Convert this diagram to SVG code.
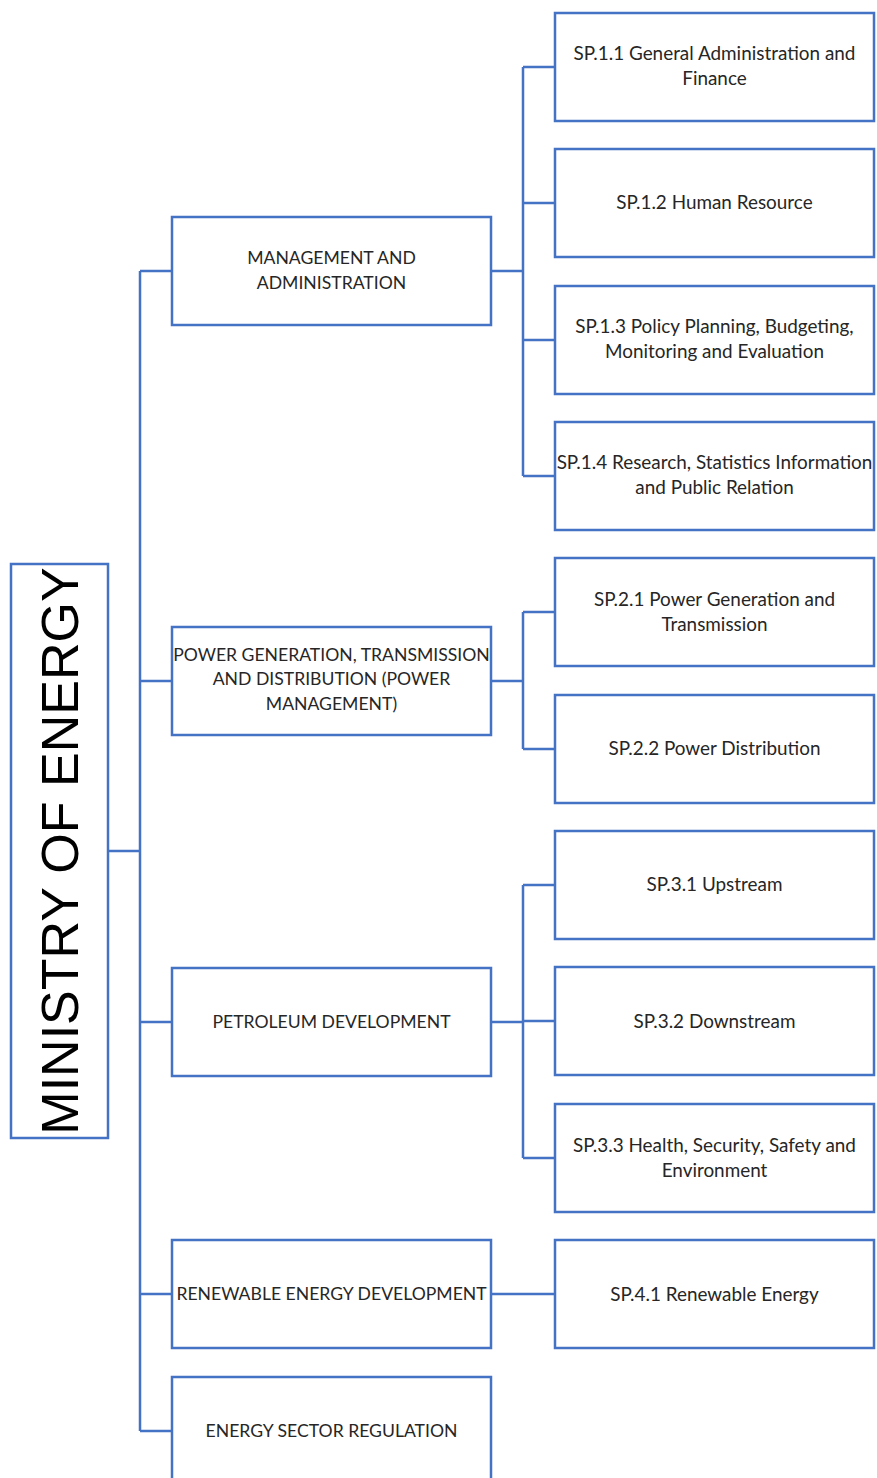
<svg xmlns="http://www.w3.org/2000/svg" width="877" height="1478" viewBox="0 0 877 1478">
<style>
.box{fill:#fff;stroke:#4472C4;stroke-width:2.5}
.con{fill:none;stroke:#4472C4;stroke-width:2.5}
.t{font-family:Lato,"Liberation Sans",sans-serif;font-size:17.6px;fill:#262626;text-anchor:middle}
.s{font-size:18.9px}
.root{font-family:"Liberation Sans",Arial,sans-serif;font-size:52px;fill:#000;text-anchor:middle}
</style>
<rect width="877" height="1478" fill="#fff"/>
<g id="connectors" class="con">
<path d="M108,851H140M140,271V1431M140,271H172M140,681H172M140,1022H172M140,1294H172M140,1431H172"/>
<path d="M491,271H523M523,67V476M523,67H555M523,203H555M523,340H555M523,476H555"/>
<path d="M491,681H523M523,612V749M523,612H555M523,749H555"/>
<path d="M491,1022H523M523,885V1158M523,885H555M523,1021H555M523,1158H555"/>
<path d="M491,1294H555"/>
</g>
<g id="root"><rect class="box" x="11" y="564" width="97" height="574"/><text class="root" transform="translate(78,851) rotate(-90)">MINISTRY OF ENERGY</text></g>
<g id="mgmt"><rect class="box" x="172" y="217" width="319" height="108"/><text class="t" x="331.5" y="264">MANAGEMENT AND</text><text class="t" x="331.5" y="289">ADMINISTRATION</text></g>
<g id="power"><rect class="box" x="172" y="627" width="319" height="108"/><text class="t" x="331.5" y="661">POWER GENERATION, TRANSMISSION</text><text class="t" x="331.5" y="685">AND DISTRIBUTION (POWER</text><text class="t" x="331.5" y="710">MANAGEMENT)</text></g>
<g id="petroleum"><rect class="box" x="172" y="968" width="319" height="108"/><text class="t" x="331.5" y="1028">PETROLEUM DEVELOPMENT</text></g>
<g id="renewable"><rect class="box" x="172" y="1240" width="319" height="108"/><text class="t" x="331.5" y="1300">RENEWABLE ENERGY DEVELOPMENT</text></g>
<g id="regulation"><rect class="box" x="172" y="1377" width="319" height="108"/><text class="t" x="331.5" y="1437">ENERGY SECTOR REGULATION</text></g>
<g id="sp11"><rect class="box" x="555" y="13" width="319" height="108"/><text class="t s" x="714.5" y="60">SP.1.1 General Administration and</text><text class="t s" x="714.5" y="85">Finance</text></g>
<g id="sp12"><rect class="box" x="555" y="149" width="319" height="108"/><text class="t s" x="714.5" y="209">SP.1.2 Human Resource</text></g>
<g id="sp13"><rect class="box" x="555" y="286" width="319" height="108"/><text class="t s" x="714.5" y="333">SP.1.3 Policy Planning, Budgeting,</text><text class="t s" x="714.5" y="358">Monitoring and Evaluation</text></g>
<g id="sp14"><rect class="box" x="555" y="422" width="319" height="108"/><text class="t s" x="714.5" y="469">SP.1.4 Research, Statistics Information</text><text class="t s" x="714.5" y="494">and Public Relation</text></g>
<g id="sp21"><rect class="box" x="555" y="558" width="319" height="108"/><text class="t s" x="714.5" y="606">SP.2.1 Power Generation and</text><text class="t s" x="714.5" y="631">Transmission</text></g>
<g id="sp22"><rect class="box" x="555" y="695" width="319" height="108"/><text class="t s" x="714.5" y="755">SP.2.2 Power Distribution</text></g>
<g id="sp31"><rect class="box" x="555" y="831" width="319" height="108"/><text class="t s" x="714.5" y="891">SP.3.1 Upstream</text></g>
<g id="sp32"><rect class="box" x="555" y="967" width="319" height="108"/><text class="t s" x="714.5" y="1028">SP.3.2 Downstream</text></g>
<g id="sp33"><rect class="box" x="555" y="1104" width="319" height="108"/><text class="t s" x="714.5" y="1152">SP.3.3 Health, Security, Safety and</text><text class="t s" x="714.5" y="1177">Environment</text></g>
<g id="sp41"><rect class="box" x="555" y="1240" width="319" height="108"/><text class="t s" x="714.5" y="1301">SP.4.1 Renewable Energy</text></g>
</svg>
